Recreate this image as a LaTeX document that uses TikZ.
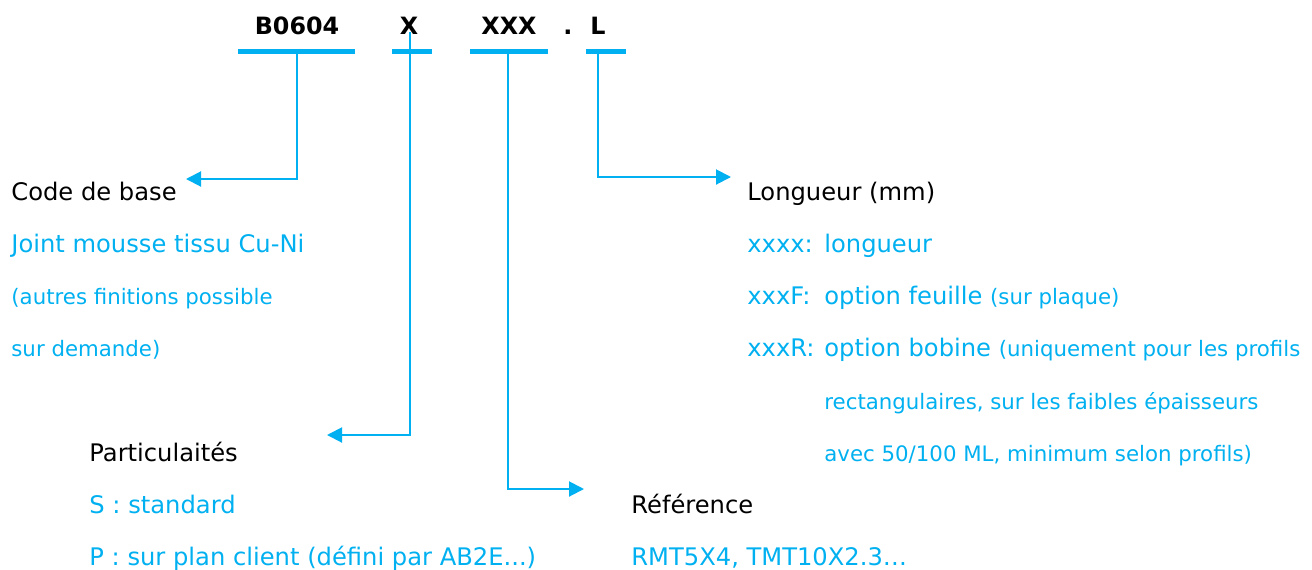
\documentclass[tikz,border=0pt]{standalone}
\usepackage{fontspec}
\setmainfont{DejaVu Sans}
\usetikzlibrary{arrows.meta}
\definecolor{cyanb}{HTML}{00B0F0}
\newcommand{\mainsz}{\fontsize{12.1}{14}\selectfont}
\newcommand{\titlesz}{\fontsize{11.9}{14}\selectfont}
\newcommand{\smallsz}{\fontsize{10.65}{13}\selectfont}
\begin{document}
\begin{tikzpicture}[x=0.5pt,y=-0.5pt,
  bar/.style={fill=cyanb, draw=none, inner sep=0, minimum height=2.5pt},
  code/.style={font=\bfseries\titlesz, anchor=base, inner sep=0},
  head/.style={font=\mainsz, anchor=base west, inner sep=0, text=black},
  desc/.style={font=\mainsz, anchor=base west, inner sep=0, text=cyanb},
  note/.style={font=\smallsz, anchor=base west, inner sep=0, text=cyanb},
  link/.style={draw=cyanb, line width=1pt, -{Triangle[length=7.5pt,width=7.5pt]}}]
\useasboundingbox (0,0) rectangle (1312,569);

% code letters
\node[code] (tB) at (297,34) {B0604};
\node[code] (tX) at (409,34) {X};
\node[code] (tXXX) at (509,34) {XXX};
\node[code] (tDot) at (568,34) {.};
\node[code] (tL) at (598,34) {L};

% bars
\node[bar, minimum width=58.5pt] (bB) at (296.5,51.5) {};
\node[bar, minimum width=20pt] (bX) at (412,51.5) {};
\node[bar, minimum width=39pt] (bXXX) at (509,51.5) {};
\node[bar, minimum width=20pt] (bL) at (606,51.5) {};

% arrow end points
\coordinate (aB) at (186,179);
\coordinate (aX) at (327,435);
\coordinate (aXXX) at (584,489);
\coordinate (aL) at (731,177);
\coordinate (sB) at (297,54);
\coordinate (sX) at (410,32);
\coordinate (sXXX) at (508,54);
\coordinate (sL) at (598,54);

% connectors
\draw[link] (sB) |- (aB);
\draw[link] (sX) |- (aX);
\draw[link] (sXXX) |- (aXXX);
\draw[link] (sL) |- (aL);

% left block
\node[head] (h1) at (11,200) {Code de base};
\node[desc] (d11) at (11,252) {Joint mousse tissu Cu-Ni};
\node[note] (d12) at (11,304) {(autres finitions possible};
\node[note] (d13) at (11,356) {sur demande)};

% right block
\node[head] (h4) at (747,200) {Longueur (mm)};
\node[desc] (k41) at (747,252) {xxxx:};
\node[desc] (v41) at (824,252) {longueur};
\node[desc] (k42) at (747,304) {xxxF:};
\node[desc] (v42) at (824,304) {option feuille {\smallsz (sur plaque)}};
\node[desc] (k43) at (747,356) {xxxR:};
\node[desc] (v43) at (824,356) {option bobine {\smallsz (uniquement pour les profils}};
\node[note] (v44) at (824,409) {rectangulaires, sur les faibles épaisseurs};
\node[note] (v45) at (824,461) {avec 50/100 ML, minimum selon profils)};

% bottom-left block
\node[head] (h2) at (89,461) {Particulaités};
\node[desc] (d21) at (89,513) {S : standard};
\node[desc] (d22) at (89,565) {P : sur plan client (défini par AB2E...)};

% bottom-middle block
\node[head] (h3) at (631,513) {Référence};
\node[desc] (d31) at (631,565) {RMT5X4, TMT10X2.3…};
\end{tikzpicture}
\end{document}
